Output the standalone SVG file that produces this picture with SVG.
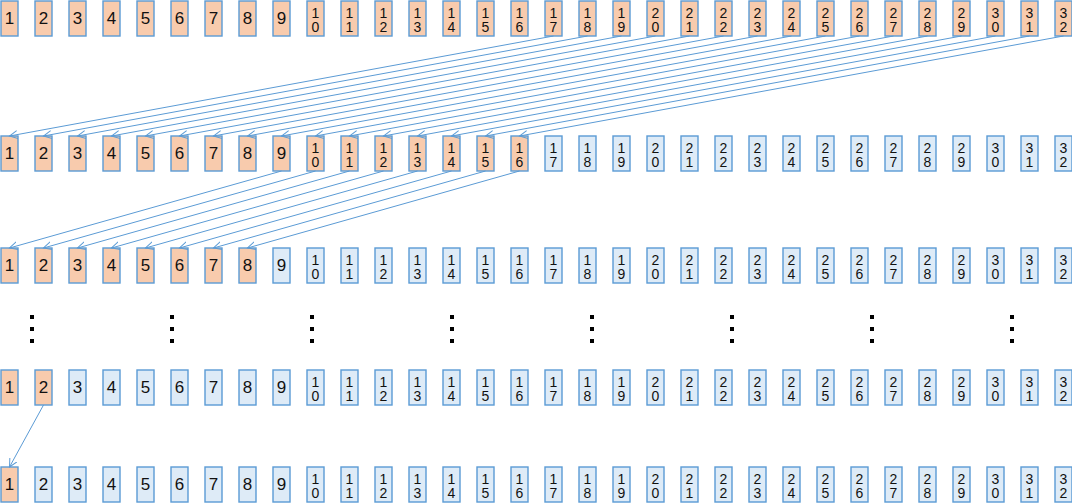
<svg xmlns="http://www.w3.org/2000/svg" width="1072" height="504" viewBox="0 0 1072 504">
<style>
.o{fill:#F8CBAD;stroke:#5B9BD5;stroke-width:1.4}
.b{fill:#DEEBF7;stroke:#5B9BD5;stroke-width:1.4}
text{font-family:"Liberation Sans",Arial,sans-serif;fill:#111;text-anchor:middle}
.s{font-size:17px}
.d{font-size:14px}
.a{stroke:#5B9BD5;stroke-width:1;fill:none;marker-end:url(#ah)}
.dot{fill:#000}
</style>
<defs>
<marker id="ah" markerUnits="userSpaceOnUse" markerWidth="10" markerHeight="10" refX="8" refY="4" orient="auto">
<path d="M0,0 L8,4 L0,8" fill="none" stroke="#5B9BD5" stroke-width="1"/>
</marker>
</defs>
<rect width="1072" height="504" fill="#fff"/>
<g id="row1">
<g id="r1n1"><rect class="o" x="1" y="1" width="17" height="35"/><text class="s" x="9.5" y="24">1</text></g>
<g id="r1n2"><rect class="o" x="35" y="1" width="17" height="35"/><text class="s" x="43.5" y="24">2</text></g>
<g id="r1n3"><rect class="o" x="69" y="1" width="17" height="35"/><text class="s" x="77.5" y="24">3</text></g>
<g id="r1n4"><rect class="o" x="103" y="1" width="17" height="35"/><text class="s" x="111.5" y="24">4</text></g>
<g id="r1n5"><rect class="o" x="137" y="1" width="17" height="35"/><text class="s" x="145.5" y="24">5</text></g>
<g id="r1n6"><rect class="o" x="171" y="1" width="17" height="35"/><text class="s" x="179.5" y="24">6</text></g>
<g id="r1n7"><rect class="o" x="205" y="1" width="17" height="35"/><text class="s" x="213.5" y="24">7</text></g>
<g id="r1n8"><rect class="o" x="239" y="1" width="17" height="35"/><text class="s" x="247.5" y="24">8</text></g>
<g id="r1n9"><rect class="o" x="273" y="1" width="17" height="35"/><text class="s" x="281.5" y="24">9</text></g>
<g id="r1n10"><rect class="o" x="307" y="1" width="17" height="35"/><text class="d"><tspan x="315.5" y="18">1</tspan><tspan x="315.5" y="32">0</tspan></text></g>
<g id="r1n11"><rect class="o" x="341" y="1" width="17" height="35"/><text class="d"><tspan x="349.5" y="18">1</tspan><tspan x="349.5" y="32">1</tspan></text></g>
<g id="r1n12"><rect class="o" x="375" y="1" width="17" height="35"/><text class="d"><tspan x="383.5" y="18">1</tspan><tspan x="383.5" y="32">2</tspan></text></g>
<g id="r1n13"><rect class="o" x="409" y="1" width="17" height="35"/><text class="d"><tspan x="417.5" y="18">1</tspan><tspan x="417.5" y="32">3</tspan></text></g>
<g id="r1n14"><rect class="o" x="443" y="1" width="17" height="35"/><text class="d"><tspan x="451.5" y="18">1</tspan><tspan x="451.5" y="32">4</tspan></text></g>
<g id="r1n15"><rect class="o" x="477" y="1" width="17" height="35"/><text class="d"><tspan x="485.5" y="18">1</tspan><tspan x="485.5" y="32">5</tspan></text></g>
<g id="r1n16"><rect class="o" x="511" y="1" width="17" height="35"/><text class="d"><tspan x="519.5" y="18">1</tspan><tspan x="519.5" y="32">6</tspan></text></g>
<g id="r1n17"><rect class="o" x="545" y="1" width="17" height="35"/><text class="d"><tspan x="553.5" y="18">1</tspan><tspan x="553.5" y="32">7</tspan></text></g>
<g id="r1n18"><rect class="o" x="579" y="1" width="17" height="35"/><text class="d"><tspan x="587.5" y="18">1</tspan><tspan x="587.5" y="32">8</tspan></text></g>
<g id="r1n19"><rect class="o" x="613" y="1" width="17" height="35"/><text class="d"><tspan x="621.5" y="18">1</tspan><tspan x="621.5" y="32">9</tspan></text></g>
<g id="r1n20"><rect class="o" x="647" y="1" width="17" height="35"/><text class="d"><tspan x="655.5" y="18">2</tspan><tspan x="655.5" y="32">0</tspan></text></g>
<g id="r1n21"><rect class="o" x="681" y="1" width="17" height="35"/><text class="d"><tspan x="689.5" y="18">2</tspan><tspan x="689.5" y="32">1</tspan></text></g>
<g id="r1n22"><rect class="o" x="715" y="1" width="17" height="35"/><text class="d"><tspan x="723.5" y="18">2</tspan><tspan x="723.5" y="32">2</tspan></text></g>
<g id="r1n23"><rect class="o" x="749" y="1" width="17" height="35"/><text class="d"><tspan x="757.5" y="18">2</tspan><tspan x="757.5" y="32">3</tspan></text></g>
<g id="r1n24"><rect class="o" x="783" y="1" width="17" height="35"/><text class="d"><tspan x="791.5" y="18">2</tspan><tspan x="791.5" y="32">4</tspan></text></g>
<g id="r1n25"><rect class="o" x="817" y="1" width="17" height="35"/><text class="d"><tspan x="825.5" y="18">2</tspan><tspan x="825.5" y="32">5</tspan></text></g>
<g id="r1n26"><rect class="o" x="851" y="1" width="17" height="35"/><text class="d"><tspan x="859.5" y="18">2</tspan><tspan x="859.5" y="32">6</tspan></text></g>
<g id="r1n27"><rect class="o" x="885" y="1" width="17" height="35"/><text class="d"><tspan x="893.5" y="18">2</tspan><tspan x="893.5" y="32">7</tspan></text></g>
<g id="r1n28"><rect class="o" x="919" y="1" width="17" height="35"/><text class="d"><tspan x="927.5" y="18">2</tspan><tspan x="927.5" y="32">8</tspan></text></g>
<g id="r1n29"><rect class="o" x="953" y="1" width="17" height="35"/><text class="d"><tspan x="961.5" y="18">2</tspan><tspan x="961.5" y="32">9</tspan></text></g>
<g id="r1n30"><rect class="o" x="987" y="1" width="17" height="35"/><text class="d"><tspan x="995.5" y="18">3</tspan><tspan x="995.5" y="32">0</tspan></text></g>
<g id="r1n31"><rect class="o" x="1021" y="1" width="17" height="35"/><text class="d"><tspan x="1029.5" y="18">3</tspan><tspan x="1029.5" y="32">1</tspan></text></g>
<g id="r1n32"><rect class="o" x="1055" y="1" width="17" height="35"/><text class="d"><tspan x="1063.5" y="18">3</tspan><tspan x="1063.5" y="32">2</tspan></text></g>
</g>
<g id="row2">
<g id="r2n1"><rect class="o" x="1" y="136" width="17" height="35"/><text class="s" x="9.5" y="159">1</text></g>
<g id="r2n2"><rect class="o" x="35" y="136" width="17" height="35"/><text class="s" x="43.5" y="159">2</text></g>
<g id="r2n3"><rect class="o" x="69" y="136" width="17" height="35"/><text class="s" x="77.5" y="159">3</text></g>
<g id="r2n4"><rect class="o" x="103" y="136" width="17" height="35"/><text class="s" x="111.5" y="159">4</text></g>
<g id="r2n5"><rect class="o" x="137" y="136" width="17" height="35"/><text class="s" x="145.5" y="159">5</text></g>
<g id="r2n6"><rect class="o" x="171" y="136" width="17" height="35"/><text class="s" x="179.5" y="159">6</text></g>
<g id="r2n7"><rect class="o" x="205" y="136" width="17" height="35"/><text class="s" x="213.5" y="159">7</text></g>
<g id="r2n8"><rect class="o" x="239" y="136" width="17" height="35"/><text class="s" x="247.5" y="159">8</text></g>
<g id="r2n9"><rect class="o" x="273" y="136" width="17" height="35"/><text class="s" x="281.5" y="159">9</text></g>
<g id="r2n10"><rect class="o" x="307" y="136" width="17" height="35"/><text class="d"><tspan x="315.5" y="153">1</tspan><tspan x="315.5" y="167">0</tspan></text></g>
<g id="r2n11"><rect class="o" x="341" y="136" width="17" height="35"/><text class="d"><tspan x="349.5" y="153">1</tspan><tspan x="349.5" y="167">1</tspan></text></g>
<g id="r2n12"><rect class="o" x="375" y="136" width="17" height="35"/><text class="d"><tspan x="383.5" y="153">1</tspan><tspan x="383.5" y="167">2</tspan></text></g>
<g id="r2n13"><rect class="o" x="409" y="136" width="17" height="35"/><text class="d"><tspan x="417.5" y="153">1</tspan><tspan x="417.5" y="167">3</tspan></text></g>
<g id="r2n14"><rect class="o" x="443" y="136" width="17" height="35"/><text class="d"><tspan x="451.5" y="153">1</tspan><tspan x="451.5" y="167">4</tspan></text></g>
<g id="r2n15"><rect class="o" x="477" y="136" width="17" height="35"/><text class="d"><tspan x="485.5" y="153">1</tspan><tspan x="485.5" y="167">5</tspan></text></g>
<g id="r2n16"><rect class="o" x="511" y="136" width="17" height="35"/><text class="d"><tspan x="519.5" y="153">1</tspan><tspan x="519.5" y="167">6</tspan></text></g>
<g id="r2n17"><rect class="b" x="545" y="136" width="17" height="35"/><text class="d"><tspan x="553.5" y="153">1</tspan><tspan x="553.5" y="167">7</tspan></text></g>
<g id="r2n18"><rect class="b" x="579" y="136" width="17" height="35"/><text class="d"><tspan x="587.5" y="153">1</tspan><tspan x="587.5" y="167">8</tspan></text></g>
<g id="r2n19"><rect class="b" x="613" y="136" width="17" height="35"/><text class="d"><tspan x="621.5" y="153">1</tspan><tspan x="621.5" y="167">9</tspan></text></g>
<g id="r2n20"><rect class="b" x="647" y="136" width="17" height="35"/><text class="d"><tspan x="655.5" y="153">2</tspan><tspan x="655.5" y="167">0</tspan></text></g>
<g id="r2n21"><rect class="b" x="681" y="136" width="17" height="35"/><text class="d"><tspan x="689.5" y="153">2</tspan><tspan x="689.5" y="167">1</tspan></text></g>
<g id="r2n22"><rect class="b" x="715" y="136" width="17" height="35"/><text class="d"><tspan x="723.5" y="153">2</tspan><tspan x="723.5" y="167">2</tspan></text></g>
<g id="r2n23"><rect class="b" x="749" y="136" width="17" height="35"/><text class="d"><tspan x="757.5" y="153">2</tspan><tspan x="757.5" y="167">3</tspan></text></g>
<g id="r2n24"><rect class="b" x="783" y="136" width="17" height="35"/><text class="d"><tspan x="791.5" y="153">2</tspan><tspan x="791.5" y="167">4</tspan></text></g>
<g id="r2n25"><rect class="b" x="817" y="136" width="17" height="35"/><text class="d"><tspan x="825.5" y="153">2</tspan><tspan x="825.5" y="167">5</tspan></text></g>
<g id="r2n26"><rect class="b" x="851" y="136" width="17" height="35"/><text class="d"><tspan x="859.5" y="153">2</tspan><tspan x="859.5" y="167">6</tspan></text></g>
<g id="r2n27"><rect class="b" x="885" y="136" width="17" height="35"/><text class="d"><tspan x="893.5" y="153">2</tspan><tspan x="893.5" y="167">7</tspan></text></g>
<g id="r2n28"><rect class="b" x="919" y="136" width="17" height="35"/><text class="d"><tspan x="927.5" y="153">2</tspan><tspan x="927.5" y="167">8</tspan></text></g>
<g id="r2n29"><rect class="b" x="953" y="136" width="17" height="35"/><text class="d"><tspan x="961.5" y="153">2</tspan><tspan x="961.5" y="167">9</tspan></text></g>
<g id="r2n30"><rect class="b" x="987" y="136" width="17" height="35"/><text class="d"><tspan x="995.5" y="153">3</tspan><tspan x="995.5" y="167">0</tspan></text></g>
<g id="r2n31"><rect class="b" x="1021" y="136" width="17" height="35"/><text class="d"><tspan x="1029.5" y="153">3</tspan><tspan x="1029.5" y="167">1</tspan></text></g>
<g id="r2n32"><rect class="b" x="1055" y="136" width="17" height="35"/><text class="d"><tspan x="1063.5" y="153">3</tspan><tspan x="1063.5" y="167">2</tspan></text></g>
</g>
<g id="row3">
<g id="r3n1"><rect class="o" x="1" y="248" width="17" height="35"/><text class="s" x="9.5" y="271">1</text></g>
<g id="r3n2"><rect class="o" x="35" y="248" width="17" height="35"/><text class="s" x="43.5" y="271">2</text></g>
<g id="r3n3"><rect class="o" x="69" y="248" width="17" height="35"/><text class="s" x="77.5" y="271">3</text></g>
<g id="r3n4"><rect class="o" x="103" y="248" width="17" height="35"/><text class="s" x="111.5" y="271">4</text></g>
<g id="r3n5"><rect class="o" x="137" y="248" width="17" height="35"/><text class="s" x="145.5" y="271">5</text></g>
<g id="r3n6"><rect class="o" x="171" y="248" width="17" height="35"/><text class="s" x="179.5" y="271">6</text></g>
<g id="r3n7"><rect class="o" x="205" y="248" width="17" height="35"/><text class="s" x="213.5" y="271">7</text></g>
<g id="r3n8"><rect class="o" x="239" y="248" width="17" height="35"/><text class="s" x="247.5" y="271">8</text></g>
<g id="r3n9"><rect class="b" x="273" y="248" width="17" height="35"/><text class="s" x="281.5" y="271">9</text></g>
<g id="r3n10"><rect class="b" x="307" y="248" width="17" height="35"/><text class="d"><tspan x="315.5" y="265">1</tspan><tspan x="315.5" y="279">0</tspan></text></g>
<g id="r3n11"><rect class="b" x="341" y="248" width="17" height="35"/><text class="d"><tspan x="349.5" y="265">1</tspan><tspan x="349.5" y="279">1</tspan></text></g>
<g id="r3n12"><rect class="b" x="375" y="248" width="17" height="35"/><text class="d"><tspan x="383.5" y="265">1</tspan><tspan x="383.5" y="279">2</tspan></text></g>
<g id="r3n13"><rect class="b" x="409" y="248" width="17" height="35"/><text class="d"><tspan x="417.5" y="265">1</tspan><tspan x="417.5" y="279">3</tspan></text></g>
<g id="r3n14"><rect class="b" x="443" y="248" width="17" height="35"/><text class="d"><tspan x="451.5" y="265">1</tspan><tspan x="451.5" y="279">4</tspan></text></g>
<g id="r3n15"><rect class="b" x="477" y="248" width="17" height="35"/><text class="d"><tspan x="485.5" y="265">1</tspan><tspan x="485.5" y="279">5</tspan></text></g>
<g id="r3n16"><rect class="b" x="511" y="248" width="17" height="35"/><text class="d"><tspan x="519.5" y="265">1</tspan><tspan x="519.5" y="279">6</tspan></text></g>
<g id="r3n17"><rect class="b" x="545" y="248" width="17" height="35"/><text class="d"><tspan x="553.5" y="265">1</tspan><tspan x="553.5" y="279">7</tspan></text></g>
<g id="r3n18"><rect class="b" x="579" y="248" width="17" height="35"/><text class="d"><tspan x="587.5" y="265">1</tspan><tspan x="587.5" y="279">8</tspan></text></g>
<g id="r3n19"><rect class="b" x="613" y="248" width="17" height="35"/><text class="d"><tspan x="621.5" y="265">1</tspan><tspan x="621.5" y="279">9</tspan></text></g>
<g id="r3n20"><rect class="b" x="647" y="248" width="17" height="35"/><text class="d"><tspan x="655.5" y="265">2</tspan><tspan x="655.5" y="279">0</tspan></text></g>
<g id="r3n21"><rect class="b" x="681" y="248" width="17" height="35"/><text class="d"><tspan x="689.5" y="265">2</tspan><tspan x="689.5" y="279">1</tspan></text></g>
<g id="r3n22"><rect class="b" x="715" y="248" width="17" height="35"/><text class="d"><tspan x="723.5" y="265">2</tspan><tspan x="723.5" y="279">2</tspan></text></g>
<g id="r3n23"><rect class="b" x="749" y="248" width="17" height="35"/><text class="d"><tspan x="757.5" y="265">2</tspan><tspan x="757.5" y="279">3</tspan></text></g>
<g id="r3n24"><rect class="b" x="783" y="248" width="17" height="35"/><text class="d"><tspan x="791.5" y="265">2</tspan><tspan x="791.5" y="279">4</tspan></text></g>
<g id="r3n25"><rect class="b" x="817" y="248" width="17" height="35"/><text class="d"><tspan x="825.5" y="265">2</tspan><tspan x="825.5" y="279">5</tspan></text></g>
<g id="r3n26"><rect class="b" x="851" y="248" width="17" height="35"/><text class="d"><tspan x="859.5" y="265">2</tspan><tspan x="859.5" y="279">6</tspan></text></g>
<g id="r3n27"><rect class="b" x="885" y="248" width="17" height="35"/><text class="d"><tspan x="893.5" y="265">2</tspan><tspan x="893.5" y="279">7</tspan></text></g>
<g id="r3n28"><rect class="b" x="919" y="248" width="17" height="35"/><text class="d"><tspan x="927.5" y="265">2</tspan><tspan x="927.5" y="279">8</tspan></text></g>
<g id="r3n29"><rect class="b" x="953" y="248" width="17" height="35"/><text class="d"><tspan x="961.5" y="265">2</tspan><tspan x="961.5" y="279">9</tspan></text></g>
<g id="r3n30"><rect class="b" x="987" y="248" width="17" height="35"/><text class="d"><tspan x="995.5" y="265">3</tspan><tspan x="995.5" y="279">0</tspan></text></g>
<g id="r3n31"><rect class="b" x="1021" y="248" width="17" height="35"/><text class="d"><tspan x="1029.5" y="265">3</tspan><tspan x="1029.5" y="279">1</tspan></text></g>
<g id="r3n32"><rect class="b" x="1055" y="248" width="17" height="35"/><text class="d"><tspan x="1063.5" y="265">3</tspan><tspan x="1063.5" y="279">2</tspan></text></g>
</g>
<g id="ellipsis">
<rect class="dot" x="30" y="315" width="4" height="4"/><rect class="dot" x="30" y="327" width="4" height="4"/><rect class="dot" x="30" y="339" width="4" height="4"/>
<rect class="dot" x="170" y="315" width="4" height="4"/><rect class="dot" x="170" y="327" width="4" height="4"/><rect class="dot" x="170" y="339" width="4" height="4"/>
<rect class="dot" x="310" y="315" width="4" height="4"/><rect class="dot" x="310" y="327" width="4" height="4"/><rect class="dot" x="310" y="339" width="4" height="4"/>
<rect class="dot" x="450" y="315" width="4" height="4"/><rect class="dot" x="450" y="327" width="4" height="4"/><rect class="dot" x="450" y="339" width="4" height="4"/>
<rect class="dot" x="590" y="315" width="4" height="4"/><rect class="dot" x="590" y="327" width="4" height="4"/><rect class="dot" x="590" y="339" width="4" height="4"/>
<rect class="dot" x="730" y="315" width="4" height="4"/><rect class="dot" x="730" y="327" width="4" height="4"/><rect class="dot" x="730" y="339" width="4" height="4"/>
<rect class="dot" x="870" y="315" width="4" height="4"/><rect class="dot" x="870" y="327" width="4" height="4"/><rect class="dot" x="870" y="339" width="4" height="4"/>
<rect class="dot" x="1010" y="315" width="4" height="4"/><rect class="dot" x="1010" y="327" width="4" height="4"/><rect class="dot" x="1010" y="339" width="4" height="4"/>
</g>
<g id="row4">
<g id="r4n1"><rect class="o" x="1" y="370" width="17" height="35"/><text class="s" x="9.5" y="393">1</text></g>
<g id="r4n2"><rect class="o" x="35" y="370" width="17" height="35"/><text class="s" x="43.5" y="393">2</text></g>
<g id="r4n3"><rect class="b" x="69" y="370" width="17" height="35"/><text class="s" x="77.5" y="393">3</text></g>
<g id="r4n4"><rect class="b" x="103" y="370" width="17" height="35"/><text class="s" x="111.5" y="393">4</text></g>
<g id="r4n5"><rect class="b" x="137" y="370" width="17" height="35"/><text class="s" x="145.5" y="393">5</text></g>
<g id="r4n6"><rect class="b" x="171" y="370" width="17" height="35"/><text class="s" x="179.5" y="393">6</text></g>
<g id="r4n7"><rect class="b" x="205" y="370" width="17" height="35"/><text class="s" x="213.5" y="393">7</text></g>
<g id="r4n8"><rect class="b" x="239" y="370" width="17" height="35"/><text class="s" x="247.5" y="393">8</text></g>
<g id="r4n9"><rect class="b" x="273" y="370" width="17" height="35"/><text class="s" x="281.5" y="393">9</text></g>
<g id="r4n10"><rect class="b" x="307" y="370" width="17" height="35"/><text class="d"><tspan x="315.5" y="387">1</tspan><tspan x="315.5" y="401">0</tspan></text></g>
<g id="r4n11"><rect class="b" x="341" y="370" width="17" height="35"/><text class="d"><tspan x="349.5" y="387">1</tspan><tspan x="349.5" y="401">1</tspan></text></g>
<g id="r4n12"><rect class="b" x="375" y="370" width="17" height="35"/><text class="d"><tspan x="383.5" y="387">1</tspan><tspan x="383.5" y="401">2</tspan></text></g>
<g id="r4n13"><rect class="b" x="409" y="370" width="17" height="35"/><text class="d"><tspan x="417.5" y="387">1</tspan><tspan x="417.5" y="401">3</tspan></text></g>
<g id="r4n14"><rect class="b" x="443" y="370" width="17" height="35"/><text class="d"><tspan x="451.5" y="387">1</tspan><tspan x="451.5" y="401">4</tspan></text></g>
<g id="r4n15"><rect class="b" x="477" y="370" width="17" height="35"/><text class="d"><tspan x="485.5" y="387">1</tspan><tspan x="485.5" y="401">5</tspan></text></g>
<g id="r4n16"><rect class="b" x="511" y="370" width="17" height="35"/><text class="d"><tspan x="519.5" y="387">1</tspan><tspan x="519.5" y="401">6</tspan></text></g>
<g id="r4n17"><rect class="b" x="545" y="370" width="17" height="35"/><text class="d"><tspan x="553.5" y="387">1</tspan><tspan x="553.5" y="401">7</tspan></text></g>
<g id="r4n18"><rect class="b" x="579" y="370" width="17" height="35"/><text class="d"><tspan x="587.5" y="387">1</tspan><tspan x="587.5" y="401">8</tspan></text></g>
<g id="r4n19"><rect class="b" x="613" y="370" width="17" height="35"/><text class="d"><tspan x="621.5" y="387">1</tspan><tspan x="621.5" y="401">9</tspan></text></g>
<g id="r4n20"><rect class="b" x="647" y="370" width="17" height="35"/><text class="d"><tspan x="655.5" y="387">2</tspan><tspan x="655.5" y="401">0</tspan></text></g>
<g id="r4n21"><rect class="b" x="681" y="370" width="17" height="35"/><text class="d"><tspan x="689.5" y="387">2</tspan><tspan x="689.5" y="401">1</tspan></text></g>
<g id="r4n22"><rect class="b" x="715" y="370" width="17" height="35"/><text class="d"><tspan x="723.5" y="387">2</tspan><tspan x="723.5" y="401">2</tspan></text></g>
<g id="r4n23"><rect class="b" x="749" y="370" width="17" height="35"/><text class="d"><tspan x="757.5" y="387">2</tspan><tspan x="757.5" y="401">3</tspan></text></g>
<g id="r4n24"><rect class="b" x="783" y="370" width="17" height="35"/><text class="d"><tspan x="791.5" y="387">2</tspan><tspan x="791.5" y="401">4</tspan></text></g>
<g id="r4n25"><rect class="b" x="817" y="370" width="17" height="35"/><text class="d"><tspan x="825.5" y="387">2</tspan><tspan x="825.5" y="401">5</tspan></text></g>
<g id="r4n26"><rect class="b" x="851" y="370" width="17" height="35"/><text class="d"><tspan x="859.5" y="387">2</tspan><tspan x="859.5" y="401">6</tspan></text></g>
<g id="r4n27"><rect class="b" x="885" y="370" width="17" height="35"/><text class="d"><tspan x="893.5" y="387">2</tspan><tspan x="893.5" y="401">7</tspan></text></g>
<g id="r4n28"><rect class="b" x="919" y="370" width="17" height="35"/><text class="d"><tspan x="927.5" y="387">2</tspan><tspan x="927.5" y="401">8</tspan></text></g>
<g id="r4n29"><rect class="b" x="953" y="370" width="17" height="35"/><text class="d"><tspan x="961.5" y="387">2</tspan><tspan x="961.5" y="401">9</tspan></text></g>
<g id="r4n30"><rect class="b" x="987" y="370" width="17" height="35"/><text class="d"><tspan x="995.5" y="387">3</tspan><tspan x="995.5" y="401">0</tspan></text></g>
<g id="r4n31"><rect class="b" x="1021" y="370" width="17" height="35"/><text class="d"><tspan x="1029.5" y="387">3</tspan><tspan x="1029.5" y="401">1</tspan></text></g>
<g id="r4n32"><rect class="b" x="1055" y="370" width="17" height="35"/><text class="d"><tspan x="1063.5" y="387">3</tspan><tspan x="1063.5" y="401">2</tspan></text></g>
</g>
<g id="row5">
<g id="r5n1"><rect class="o" x="1" y="467" width="17" height="35"/><text class="s" x="9.5" y="490">1</text></g>
<g id="r5n2"><rect class="b" x="35" y="467" width="17" height="35"/><text class="s" x="43.5" y="490">2</text></g>
<g id="r5n3"><rect class="b" x="69" y="467" width="17" height="35"/><text class="s" x="77.5" y="490">3</text></g>
<g id="r5n4"><rect class="b" x="103" y="467" width="17" height="35"/><text class="s" x="111.5" y="490">4</text></g>
<g id="r5n5"><rect class="b" x="137" y="467" width="17" height="35"/><text class="s" x="145.5" y="490">5</text></g>
<g id="r5n6"><rect class="b" x="171" y="467" width="17" height="35"/><text class="s" x="179.5" y="490">6</text></g>
<g id="r5n7"><rect class="b" x="205" y="467" width="17" height="35"/><text class="s" x="213.5" y="490">7</text></g>
<g id="r5n8"><rect class="b" x="239" y="467" width="17" height="35"/><text class="s" x="247.5" y="490">8</text></g>
<g id="r5n9"><rect class="b" x="273" y="467" width="17" height="35"/><text class="s" x="281.5" y="490">9</text></g>
<g id="r5n10"><rect class="b" x="307" y="467" width="17" height="35"/><text class="d"><tspan x="315.5" y="484">1</tspan><tspan x="315.5" y="498">0</tspan></text></g>
<g id="r5n11"><rect class="b" x="341" y="467" width="17" height="35"/><text class="d"><tspan x="349.5" y="484">1</tspan><tspan x="349.5" y="498">1</tspan></text></g>
<g id="r5n12"><rect class="b" x="375" y="467" width="17" height="35"/><text class="d"><tspan x="383.5" y="484">1</tspan><tspan x="383.5" y="498">2</tspan></text></g>
<g id="r5n13"><rect class="b" x="409" y="467" width="17" height="35"/><text class="d"><tspan x="417.5" y="484">1</tspan><tspan x="417.5" y="498">3</tspan></text></g>
<g id="r5n14"><rect class="b" x="443" y="467" width="17" height="35"/><text class="d"><tspan x="451.5" y="484">1</tspan><tspan x="451.5" y="498">4</tspan></text></g>
<g id="r5n15"><rect class="b" x="477" y="467" width="17" height="35"/><text class="d"><tspan x="485.5" y="484">1</tspan><tspan x="485.5" y="498">5</tspan></text></g>
<g id="r5n16"><rect class="b" x="511" y="467" width="17" height="35"/><text class="d"><tspan x="519.5" y="484">1</tspan><tspan x="519.5" y="498">6</tspan></text></g>
<g id="r5n17"><rect class="b" x="545" y="467" width="17" height="35"/><text class="d"><tspan x="553.5" y="484">1</tspan><tspan x="553.5" y="498">7</tspan></text></g>
<g id="r5n18"><rect class="b" x="579" y="467" width="17" height="35"/><text class="d"><tspan x="587.5" y="484">1</tspan><tspan x="587.5" y="498">8</tspan></text></g>
<g id="r5n19"><rect class="b" x="613" y="467" width="17" height="35"/><text class="d"><tspan x="621.5" y="484">1</tspan><tspan x="621.5" y="498">9</tspan></text></g>
<g id="r5n20"><rect class="b" x="647" y="467" width="17" height="35"/><text class="d"><tspan x="655.5" y="484">2</tspan><tspan x="655.5" y="498">0</tspan></text></g>
<g id="r5n21"><rect class="b" x="681" y="467" width="17" height="35"/><text class="d"><tspan x="689.5" y="484">2</tspan><tspan x="689.5" y="498">1</tspan></text></g>
<g id="r5n22"><rect class="b" x="715" y="467" width="17" height="35"/><text class="d"><tspan x="723.5" y="484">2</tspan><tspan x="723.5" y="498">2</tspan></text></g>
<g id="r5n23"><rect class="b" x="749" y="467" width="17" height="35"/><text class="d"><tspan x="757.5" y="484">2</tspan><tspan x="757.5" y="498">3</tspan></text></g>
<g id="r5n24"><rect class="b" x="783" y="467" width="17" height="35"/><text class="d"><tspan x="791.5" y="484">2</tspan><tspan x="791.5" y="498">4</tspan></text></g>
<g id="r5n25"><rect class="b" x="817" y="467" width="17" height="35"/><text class="d"><tspan x="825.5" y="484">2</tspan><tspan x="825.5" y="498">5</tspan></text></g>
<g id="r5n26"><rect class="b" x="851" y="467" width="17" height="35"/><text class="d"><tspan x="859.5" y="484">2</tspan><tspan x="859.5" y="498">6</tspan></text></g>
<g id="r5n27"><rect class="b" x="885" y="467" width="17" height="35"/><text class="d"><tspan x="893.5" y="484">2</tspan><tspan x="893.5" y="498">7</tspan></text></g>
<g id="r5n28"><rect class="b" x="919" y="467" width="17" height="35"/><text class="d"><tspan x="927.5" y="484">2</tspan><tspan x="927.5" y="498">8</tspan></text></g>
<g id="r5n29"><rect class="b" x="953" y="467" width="17" height="35"/><text class="d"><tspan x="961.5" y="484">2</tspan><tspan x="961.5" y="498">9</tspan></text></g>
<g id="r5n30"><rect class="b" x="987" y="467" width="17" height="35"/><text class="d"><tspan x="995.5" y="484">3</tspan><tspan x="995.5" y="498">0</tspan></text></g>
<g id="r5n31"><rect class="b" x="1021" y="467" width="17" height="35"/><text class="d"><tspan x="1029.5" y="484">3</tspan><tspan x="1029.5" y="498">1</tspan></text></g>
<g id="r5n32"><rect class="b" x="1055" y="467" width="17" height="35"/><text class="d"><tspan x="1063.5" y="484">3</tspan><tspan x="1063.5" y="498">2</tspan></text></g>
</g>
<g id="connectors">
<line class="a" x1="553.5" y1="36" x2="9.5" y2="136"/>
<line class="a" x1="587.5" y1="36" x2="43.5" y2="136"/>
<line class="a" x1="621.5" y1="36" x2="77.5" y2="136"/>
<line class="a" x1="655.5" y1="36" x2="111.5" y2="136"/>
<line class="a" x1="689.5" y1="36" x2="145.5" y2="136"/>
<line class="a" x1="723.5" y1="36" x2="179.5" y2="136"/>
<line class="a" x1="757.5" y1="36" x2="213.5" y2="136"/>
<line class="a" x1="791.5" y1="36" x2="247.5" y2="136"/>
<line class="a" x1="825.5" y1="36" x2="281.5" y2="136"/>
<line class="a" x1="859.5" y1="36" x2="315.5" y2="136"/>
<line class="a" x1="893.5" y1="36" x2="349.5" y2="136"/>
<line class="a" x1="927.5" y1="36" x2="383.5" y2="136"/>
<line class="a" x1="961.5" y1="36" x2="417.5" y2="136"/>
<line class="a" x1="995.5" y1="36" x2="451.5" y2="136"/>
<line class="a" x1="1029.5" y1="36" x2="485.5" y2="136"/>
<line class="a" x1="1063.5" y1="36" x2="519.5" y2="136"/>
<line class="a" x1="281.5" y1="171" x2="9.5" y2="248"/>
<line class="a" x1="315.5" y1="171" x2="43.5" y2="248"/>
<line class="a" x1="349.5" y1="171" x2="77.5" y2="248"/>
<line class="a" x1="383.5" y1="171" x2="111.5" y2="248"/>
<line class="a" x1="417.5" y1="171" x2="145.5" y2="248"/>
<line class="a" x1="451.5" y1="171" x2="179.5" y2="248"/>
<line class="a" x1="485.5" y1="171" x2="213.5" y2="248"/>
<line class="a" x1="519.5" y1="171" x2="247.5" y2="248"/>
<line class="a" x1="43.5" y1="405" x2="9.5" y2="467"/>
</g>
</svg>
